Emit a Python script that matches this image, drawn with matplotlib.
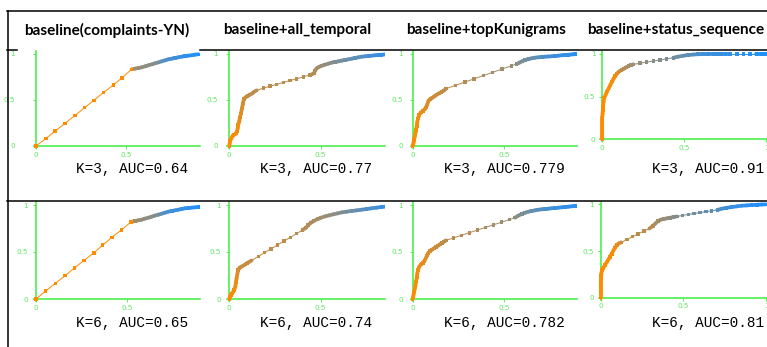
import numpy as np
import matplotlib
matplotlib.use('Agg')
import matplotlib.pyplot as plt
from matplotlib.collections import LineCollection
from matplotlib.colors import LinearSegmentedColormap
from matplotlib.lines import Line2D

# --- data -------------------------------------------------------------
columns = ['baseline(complaints-YN)', 'baseline+all_temporal',
           'baseline+topKunigrams', 'baseline+status_sequence']
k_values = [3, 6]
auc_k3 = ['0.64', '0.77', '0.779', '0.91']
auc_k6 = ['0.65', '0.74', '0.782', '0.81']

# K=3 row
k3_base_fpr = [0, 0.056, 0.107, 0.161, 0.217, 0.270, 0.322, 0.376, 0.430, 0.478, 0.531, 0.550, 0.569, 0.587,
               0.606, 0.624, 0.643, 0.661, 0.680, 0.698, 0.717, 0.735, 0.754, 0.772, 0.791, 0.809, 0.828,
               0.846, 0.865, 0.883, 0.902, 1.0]
k3_base_tpr = [0, 0.083, 0.163, 0.246, 0.333, 0.416, 0.497, 0.583, 0.663, 0.742, 0.833, 0.841, 0.848, 0.855,
               0.866, 0.877, 0.888, 0.899, 0.909, 0.920, 0.931, 0.942, 0.949, 0.957, 0.964, 0.971, 0.978,
               0.982, 0.986, 0.993, 0.997, 1.0]

k3_temp_fpr = [0, 0.002, 0.005, 0.011, 0.018, 0.027, 0.036, 0.042, 0.046, 0.049, 0.055, 0.058, 0.064, 0.069,
               0.075, 0.080, 0.089, 0.100, 0.113, 0.126, 0.137, 0.150, 0.186, 0.223, 0.259, 0.296, 0.332,
               0.369, 0.405, 0.442, 0.464, 0.469, 0.478, 0.493, 0.507, 0.524, 0.542, 0.560, 0.578, 0.597,
               0.615, 0.633, 0.651, 0.670, 0.688, 0.706, 0.724, 0.743, 0.761, 0.779, 0.797, 0.816, 0.834,
               0.852, 1.0]
k3_temp_tpr = [0, 0.029, 0.058, 0.083, 0.109, 0.123, 0.134, 0.156, 0.192, 0.228, 0.272, 0.312, 0.355, 0.409,
               0.464, 0.511, 0.529, 0.543, 0.558, 0.572, 0.591, 0.605, 0.629, 0.650, 0.670, 0.691, 0.711,
               0.731, 0.752, 0.772, 0.790, 0.819, 0.844, 0.862, 0.873, 0.884, 0.895, 0.906, 0.913, 0.920,
               0.928, 0.935, 0.942, 0.949, 0.957, 0.964, 0.971, 0.975, 0.978, 0.982, 0.986, 0.989, 0.992,
               0.995, 1.0]

k3_unig_fpr = [0, 0.004, 0.007, 0.011, 0.015, 0.018, 0.022, 0.025, 0.029, 0.035, 0.044, 0.055, 0.065, 0.073,
               0.080, 0.087, 0.096, 0.107, 0.118, 0.131, 0.144, 0.156, 0.169, 0.182, 0.233, 0.284, 0.335,
               0.385, 0.436, 0.487, 0.538, 0.567, 0.582, 0.596, 0.613, 0.631, 0.649, 0.667, 0.685, 0.704,
               0.722, 0.740, 0.758, 0.776, 0.795, 0.813, 0.831, 0.849, 0.867, 0.885, 1.0]
k3_unig_tpr = [0, 0.029, 0.065, 0.101, 0.138, 0.174, 0.217, 0.261, 0.301, 0.337, 0.362, 0.380, 0.399, 0.420,
               0.457, 0.493, 0.511, 0.525, 0.540, 0.558, 0.572, 0.587, 0.601, 0.623, 0.659, 0.694, 0.730,
               0.765, 0.801, 0.836, 0.872, 0.891, 0.906, 0.920, 0.935, 0.946, 0.953, 0.960, 0.964, 0.967,
               0.971, 0.973, 0.975, 0.978, 0.982, 0.986, 0.989, 0.992, 0.995, 0.998, 1.0]

k3_stat_fpr = [0, 0, 0, 0, 0, 0, 0, 0, 0.002, 0.003, 0.004, 0.008, 0.012, 0.020, 0.028, 0.039, 0.049, 0.059,
               0.069, 0.079, 0.091, 0.104, 0.118, 0.132, 0.146, 0.161, 0.175, 0.189, 0.230, 0.270, 0.311,
               0.352, 0.392, 0.433, 0.463, 0.494, 0.524, 0.555, 0.585, 0.615, 0.645, 0.677, 0.700, 0.725,
               0.750, 0.778, 0.820, 0.860, 0.900, 0.940, 0.972, 0.990, 1.0]
k3_stat_tpr = [0, 0.035, 0.070, 0.105, 0.148, 0.190, 0.227, 0.265, 0.305, 0.345, 0.383, 0.441, 0.488, 0.520,
               0.559, 0.598, 0.637, 0.676, 0.711, 0.742, 0.773, 0.797, 0.813, 0.828, 0.844, 0.859, 0.871,
               0.879, 0.892, 0.905, 0.918, 0.930, 0.943, 0.956, 0.969, 0.980, 0.988, 0.994, 0.997, 0.999,
               1.0, 1.0, 1.0, 1.0, 1.0, 1.0, 1.0, 1.0, 1.0, 1.0, 1.0, 1.0, 1.0]

# K=6 row
k6_base_fpr = [0, 0.053, 0.106, 0.159, 0.210, 0.263, 0.316, 0.365, 0.416, 0.467, 0.520, 0.542, 0.560, 0.578,
               0.597, 0.615, 0.633, 0.650, 0.670, 0.688, 0.706, 0.724, 0.743, 0.761, 0.779, 0.797, 0.816,
               0.834, 0.852, 0.870, 0.889, 0.898, 1.0]
k6_base_tpr = [0, 0.085, 0.167, 0.248, 0.330, 0.411, 0.489, 0.574, 0.656, 0.734, 0.819, 0.830, 0.837, 0.844,
               0.855, 0.865, 0.876, 0.887, 0.897, 0.908, 0.918, 0.929, 0.936, 0.943, 0.950, 0.957, 0.965,
               0.968, 0.972, 0.975, 0.979, 0.982, 1.0]

k6_temp_fpr = [0, 0.004, 0.009, 0.015, 0.022, 0.027, 0.033, 0.036, 0.040, 0.044, 0.049, 0.057, 0.066, 0.077,
               0.088, 0.099, 0.122, 0.159, 0.193, 0.228, 0.263, 0.299, 0.334, 0.369, 0.401, 0.420, 0.432,
               0.447, 0.465, 0.484, 0.502, 0.524, 0.546, 0.569, 0.593, 0.617, 0.642, 0.670, 0.697, 0.724,
               0.752, 0.779, 0.807, 0.834, 0.852, 1.0]
k6_temp_tpr = [0, 0.021, 0.043, 0.060, 0.078, 0.096, 0.131, 0.177, 0.220, 0.266, 0.309, 0.333, 0.344, 0.355,
               0.369, 0.383, 0.410, 0.453, 0.493, 0.533, 0.573, 0.616, 0.656, 0.696, 0.734, 0.759, 0.787,
               0.812, 0.833, 0.851, 0.865, 0.879, 0.890, 0.901, 0.911, 0.922, 0.929, 0.936, 0.943, 0.950,
               0.957, 0.965, 0.972, 0.979, 0.982, 1.0]

k6_unig_fpr = [0, 0.004, 0.007, 0.011, 0.015, 0.018, 0.022, 0.025, 0.029, 0.036, 0.045, 0.055, 0.064, 0.071,
               0.078, 0.085, 0.095, 0.105, 0.116, 0.127, 0.138, 0.149, 0.160, 0.171, 0.182, 0.222, 0.265,
               0.309, 0.353, 0.396, 0.440, 0.484, 0.527, 0.558, 0.576, 0.595, 0.613, 0.631, 0.649, 0.667,
               0.685, 0.704, 0.722, 0.740, 0.758, 0.776, 0.795, 0.813, 0.831, 0.849, 0.867, 0.885, 1.0]
k6_unig_tpr = [0, 0.035, 0.071, 0.106, 0.142, 0.184, 0.227, 0.270, 0.309, 0.344, 0.369, 0.383, 0.404, 0.433,
               0.461, 0.489, 0.511, 0.525, 0.539, 0.553, 0.567, 0.582, 0.596, 0.610, 0.624, 0.650, 0.677,
               0.705, 0.733, 0.761, 0.789, 0.817, 0.844, 0.865, 0.887, 0.904, 0.918, 0.929, 0.936, 0.943,
               0.950, 0.954, 0.957, 0.961, 0.965, 0.968, 0.972, 0.975, 0.979, 0.982, 0.986, 0.989, 1.0]

k6_stat_fpr = [0, 0, 0, 0, 0, 0, 0.002, 0.003, 0.004, 0.008, 0.016, 0.026, 0.036, 0.046, 0.056, 0.067, 0.077,
               0.087, 0.097, 0.109, 0.125, 0.159, 0.193, 0.227, 0.261, 0.294, 0.315, 0.331, 0.347, 0.363,
               0.379, 0.399, 0.419, 0.440, 0.460, 0.496, 0.531, 0.566, 0.601, 0.636, 0.671, 0.706, 0.732,
               0.762, 0.792, 0.823, 0.853, 0.883, 0.913, 0.944, 0.974, 1.0]
k6_stat_tpr = [0, 0.035, 0.070, 0.105, 0.140, 0.175, 0.207, 0.235, 0.261, 0.296, 0.321, 0.350, 0.379, 0.407,
               0.439, 0.471, 0.507, 0.536, 0.564, 0.582, 0.593, 0.624, 0.654, 0.684, 0.714, 0.741, 0.768,
               0.796, 0.821, 0.836, 0.843, 0.850, 0.857, 0.864, 0.871, 0.882, 0.892, 0.902, 0.912, 0.922,
               0.931, 0.941, 0.954, 0.964, 0.971, 0.979, 0.986, 0.989, 0.993, 0.996, 0.999, 1.0]

# --- style / layout ---------------------------------------------------
W, H = 767, 347
GREEN = '#3dee3d'
LABEL_GREEN = '#5fe85f'
cmap = LinearSegmentedColormap.from_list('roc', ['#ff8c00', '#1e90ff'])

# colour stops along fpr (orange -> blue) for each cell
shade_stops = {
    'k3_base': ([0, 0.531, 0.55, 0.66, 0.72, 0.9, 1.0], [0, 0, 0.45, 0.55, 0.8, 1.0, 1.0]),
    'k3_temp': ([0, 0.045, 0.075, 0.11, 0.45, 0.5, 0.6, 0.75, 0.85], [0, 0.05, 0.2, 0.3, 0.32, 0.45, 0.6, 0.8, 0.92]),
    'k3_unig': ([0, 0.03, 0.1, 0.18, 0.54, 0.6, 0.75, 0.9], [0, 0.05, 0.2, 0.3, 0.45, 0.6, 0.85, 0.95]),
    'k3_stat': ([0, 0.08, 0.12, 0.19, 0.43, 0.5, 0.62, 1.0], [0, 0.05, 0.3, 0.45, 0.6, 0.7, 0.85, 1.0]),
    'k6_base': ([0, 0.52, 0.542, 0.65, 0.706, 0.9, 1.0], [0, 0, 0.45, 0.55, 0.8, 1.0, 1.0]),
    'k6_temp': ([0, 0.03, 0.06, 0.4, 0.5, 0.6, 0.7, 0.85], [0, 0.05, 0.25, 0.32, 0.42, 0.55, 0.7, 0.9]),
    'k6_unig': ([0, 0.03, 0.1, 0.18, 0.53, 0.6, 0.75, 0.9], [0, 0.05, 0.2, 0.3, 0.45, 0.6, 0.85, 0.95]),
    'k6_stat': ([0, 0.09, 0.13, 0.3, 0.37, 0.46, 0.7, 0.75, 1.0], [0, 0.05, 0.28, 0.32, 0.45, 0.55, 0.72, 0.85, 1.0]),
}

# pixel layout per cell: origin x, origin y, px per unit x, px per unit y, right edge, y label pad
cells = [
    ('k3_base', k3_base_fpr, k3_base_tpr, 36.0, 146.0, 180.0, 92.0, 200, 13),
    ('k3_temp', k3_temp_fpr, k3_temp_tpr, 229.3, 146.0, 182.7, 92.0, 385, 6),
    ('k3_unig', k3_unig_fpr, k3_unig_tpr, 412.7, 146.0, 183.3, 92.0, 577, 5),
    ('k3_stat', k3_stat_fpr, k3_stat_tpr, 602.3, 139.3, 164.0, 85.3, 767, 3),
    ('k6_base', k6_base_fpr, k6_base_tpr, 36.0, 299.0, 182.7, 94.0, 200, 4),
    ('k6_temp', k6_temp_fpr, k6_temp_tpr, 229.3, 299.0, 182.7, 94.0, 385, 4),
    ('k6_unig', k6_unig_fpr, k6_unig_tpr, 412.7, 299.0, 183.3, 94.0, 577, 5),
    ('k6_stat', k6_stat_fpr, k6_stat_tpr, 600.7, 297.7, 165.3, 93.3, 767, 3),
]

fig = plt.figure(figsize=(W / 100, H / 100), dpi=100)


def draw_cell(key, fpr, tpr, x0, y0, sx, sy, right, pad):
    lo_x, lo_y, hi_y = -0.012, -0.02, 1.03
    left = x0 + lo_x * sx
    bottom = y0 - lo_y * sy
    ax = fig.add_axes([left / W, 1 - bottom / H, (right - left) / W, (hi_y - lo_y) * sy / H])
    ax.patch.set_alpha(0)

    fpr = np.asarray(fpr, dtype=float)
    tpr = np.asarray(tpr, dtype=float)
    sx_stops, st_stops = shade_stops[key]
    pts = np.column_stack([fpr, tpr])
    segs = np.stack([pts[:-1], pts[1:]], axis=1)
    # closely spaced thresholds pile up into a thick stroke
    seg_px = np.hypot(np.diff(fpr) * sx, np.diff(tpr) * sy)
    widths = np.where(seg_px < 5.3, 3.7, 1.0) * 0.72
    seg_shade = np.interp((fpr[:-1] + fpr[1:]) / 2, sx_stops, st_stops)
    ax.add_collection(LineCollection(segs, colors=cmap(seg_shade), linewidths=widths,
                                     capstyle='round', zorder=3))
    ax.scatter(fpr, tpr, c=cmap(np.interp(fpr, sx_stops, st_stops)), marker='s', s=6.5,
               linewidths=0, zorder=4)

    for side in ['top', 'right']:
        ax.spines[side].set_visible(False)
    for side in ['left', 'bottom']:
        ax.spines[side].set_position(('data', 0))
        ax.spines[side].set_color(GREEN)
        ax.spines[side].set_linewidth(1.1)
    ax.set_xticks([0, 0.5, 1], ['0', '0.5', '1'])
    ax.set_yticks([0, 0.5, 1], ['0', '0.5', '1'])
    # limits after the ticks so the view is not widened to x = 1
    ax.set_xlim(lo_x, lo_x + (right - left) / sx)
    ax.set_ylim(lo_y, hi_y)
    ax.tick_params(length=2, width=0.6, color=GREEN, labelcolor=LABEL_GREEN, labelsize=5.2)
    ax.tick_params(axis='x', pad=2)
    ax.tick_params(axis='y', pad=pad)
    return ax


for cell in cells:
    draw_cell(*cell)

# table lines
line_kw = dict(color='black', linewidth=1.1, transform=fig.transFigure)


def hline(y, xa, xb):
    fig.add_artist(Line2D([xa / W, xb / W], [1 - y / H, 1 - y / H], **line_kw))


hline(10.5, 7, 767)
hline(49.5, 7, 17)
hline(49.5, 200, 767)
hline(201, 7, 767)
fig.add_artist(Line2D([7.5 / W, 7.5 / W], [1 - 10.5 / H, 0], **line_kw))

# headers
header_x = [107, 297.5, 486, 676]
for name, cx in zip(columns, header_x):
    fig.text(cx / W, 1 - 30 / H, name, ha='center', va='center', fontsize=11,
             fontweight='bold', family='Lato')

# AUC captions
auc_x = [132, 316, 504, 708]
for k, aucs, base in zip(k_values, [auc_k3, auc_k6], [173, 327]):
    for auc, cx in zip(aucs, auc_x):
        fig.text(cx / W, 1 - base / H, f'K={k}, AUC={auc}', ha='center', va='baseline',
                 fontsize=10.4, family='Liberation Mono')

fig.savefig('out.png', dpi=100)
